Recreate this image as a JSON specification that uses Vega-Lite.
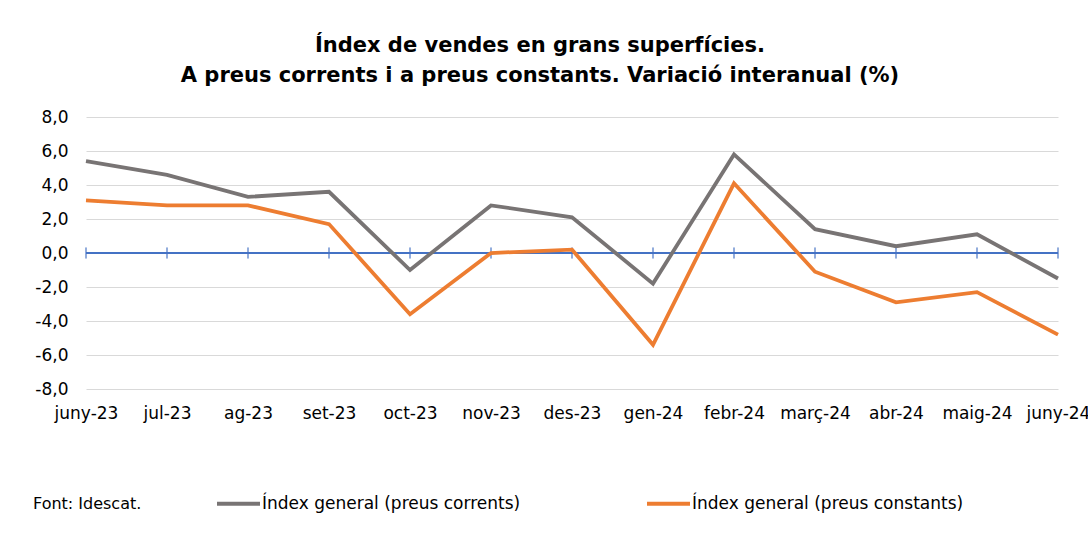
{
  "$schema": "https://vega.github.io/schema/vega-lite/v6.json",
  "width": 972,
  "height": 272,
  "autosize": {"type": "none"},
  "padding": {"left": 86, "top": 117, "right": 30, "bottom": 145},
  "background": "white",
  "title": {
    "text": ["Índex de vendes en grans superfícies.", "A preus corrents i a preus constants. Variació interanual (%)"],
    "anchor": "middle",
    "frame": "group",
    "dx": -32,
    "offset": 22,
    "font": "DejaVu Sans",
    "fontSize": 21,
    "fontWeight": "bold",
    "color": "#000000",
    "lineHeight": 30
  },
  "config": {
    "view": {"stroke": null},
    "font": "DejaVu Sans",
    "axisY": {
      "title": null,
      "labelOverlap": false,
      "labelFont": "DejaVu Sans",
      "labelFontSize": 17,
      "labelColor": "#000000",
      "labelPadding": 18,
      "ticks": false,
      "domain": false,
      "grid": true,
      "gridColor": "#d9d9d9",
      "gridWidth": 1
    }
  },
  "data": {
    "values": [
      {"mes": "juny-23", "serie": "Índex general (preus corrents)", "valor": 5.4},
      {"mes": "jul-23", "serie": "Índex general (preus corrents)", "valor": 4.6},
      {"mes": "ag-23", "serie": "Índex general (preus corrents)", "valor": 3.3},
      {"mes": "set-23", "serie": "Índex general (preus corrents)", "valor": 3.6},
      {"mes": "oct-23", "serie": "Índex general (preus corrents)", "valor": -1.0},
      {"mes": "nov-23", "serie": "Índex general (preus corrents)", "valor": 2.8},
      {"mes": "des-23", "serie": "Índex general (preus corrents)", "valor": 2.1},
      {"mes": "gen-24", "serie": "Índex general (preus corrents)", "valor": -1.8},
      {"mes": "febr-24", "serie": "Índex general (preus corrents)", "valor": 5.8},
      {"mes": "març-24", "serie": "Índex general (preus corrents)", "valor": 1.4},
      {"mes": "abr-24", "serie": "Índex general (preus corrents)", "valor": 0.4},
      {"mes": "maig-24", "serie": "Índex general (preus corrents)", "valor": 1.1},
      {"mes": "juny-24", "serie": "Índex general (preus corrents)", "valor": -1.5},
      {"mes": "juny-23", "serie": "Índex general (preus constants)", "valor": 3.1},
      {"mes": "jul-23", "serie": "Índex general (preus constants)", "valor": 2.8},
      {"mes": "ag-23", "serie": "Índex general (preus constants)", "valor": 2.8},
      {"mes": "set-23", "serie": "Índex general (preus constants)", "valor": 1.7},
      {"mes": "oct-23", "serie": "Índex general (preus constants)", "valor": -3.6},
      {"mes": "nov-23", "serie": "Índex general (preus constants)", "valor": 0.0},
      {"mes": "des-23", "serie": "Índex general (preus constants)", "valor": 0.2},
      {"mes": "gen-24", "serie": "Índex general (preus constants)", "valor": -5.4},
      {"mes": "febr-24", "serie": "Índex general (preus constants)", "valor": 4.1},
      {"mes": "març-24", "serie": "Índex general (preus constants)", "valor": -1.1},
      {"mes": "abr-24", "serie": "Índex general (preus constants)", "valor": -2.9},
      {"mes": "maig-24", "serie": "Índex general (preus constants)", "valor": -2.3},
      {"mes": "juny-24", "serie": "Índex general (preus constants)", "valor": -4.8}
    ]
  },
  "encoding": {
    "x": {
      "field": "mes",
      "type": "ordinal",
      "sort": null,
      "scale": {"type": "point", "padding": 0},
      "axis": {
        "title": null,
        "labelAngle": 0,
        "labelFont": "DejaVu Sans",
        "labelFontSize": 17,
        "labelColor": "#000000",
        "labelPadding": 16,
        "labelOverlap": false,
        "labelFlush": false,
        "labelBound": false,
        "ticks": false,
        "domain": false,
        "grid": false
      }
    }
  },
  "layer": [
    {
      "mark": {"type": "rule", "color": "#4472c4", "strokeWidth": 1},
      "encoding": {
        "y": {
          "datum": 0,
          "type": "quantitative",
          "scale": {"domain": [-8, 8], "nice": false},
          "axis": {
            "values": [-8, -6, -4, -2, 0, 2, 4, 6, 8],
            "labelExpr": "replace(replace(format(datum.value, '.1f'), '.', ','), '−', '-')"
          }
        },
        "x": null
      }
    },
    {
      "mark": {"type": "tick", "orient": "vertical", "color": "#4472c4", "size": 11, "thickness": 1},
      "encoding": {
        "y": {
          "datum": 0,
          "type": "quantitative",
          "axis": {
            "values": [-8, -6, -4, -2, 0, 2, 4, 6, 8],
            "labelExpr": "replace(replace(format(datum.value, '.1f'), '.', ','), '−', '-')"
          }
        }
      }
    },
    {
      "mark": {"type": "line", "strokeWidth": 3.8, "strokeJoin": "miter"},
      "encoding": {
        "y": {
          "field": "valor",
          "type": "quantitative",
          "scale": {"domain": [-8, 8], "nice": false},
          "axis": {
            "values": [-8, -6, -4, -2, 0, 2, 4, 6, 8],
            "labelExpr": "replace(replace(format(datum.value, '.1f'), '.', ','), '−', '-')"
          }
        },
        "color": {
          "field": "serie",
          "type": "nominal",
          "scale": {
            "domain": ["Índex general (preus corrents)", "Índex general (preus constants)"],
            "range": ["#787474", "#ed7d31"]
          },
          "legend": {
            "orient": "none",
            "legendX": -53,
            "legendY": 363,
            "direction": "horizontal",
            "title": "Font: Idescat.",
            "titleOrient": "left",
            "titleFont": "DejaVu Sans",
            "titleFontSize": 16,
            "titleFontWeight": "normal",
            "titleColor": "#000000",
            "titlePadding": 73,
            "titleBaseline": "top",
            "labelFont": "DejaVu Sans",
            "labelFontSize": 17,
            "labelColor": "#000000",
            "labelOffset": 0,
            "labelLimit": 400,
            "symbolType": "stroke",
            "symbolSize": 1849,
            "symbolStrokeWidth": 4,
            "columnPadding": 118
          }
        }
      }
    }
  ]
}
